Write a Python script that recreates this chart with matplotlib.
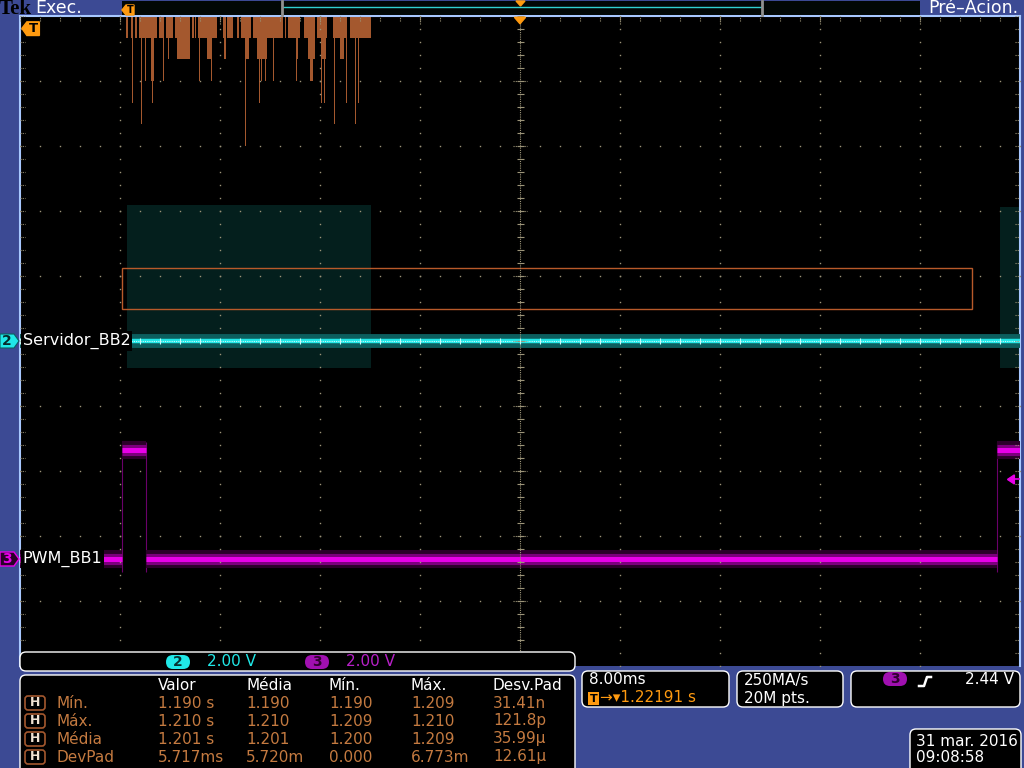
import numpy as np
import matplotlib.pyplot as plt
from matplotlib.patches import FancyBboxPatch, Polygon, Rectangle

# scope settings
TIME_DIV = 8.0       # ms/div
V_DIV = 2.0          # V/div (ch2 and ch3)
CH2_POS = 0.0        # div
CH3_POS = -3.35      # div
TRIG_LEVEL = 2.44    # V, ch3

# ch2 "Servidor_BB2"
ch2_t = [-40.0, 40.0]
ch2_v = [0.0, 0.0]
# ch2 persistence envelope: start ms, end ms, min V, max V
env_t0 = [-31.44, 38.40]
env_t1 = [-11.92, 40.00]
env_vmin = [-0.83, -0.83]
env_vmax = [4.18, 4.12]

# ch3 "PWM_BB1" levels
ch3_t0 = [-40.0, -31.84, -29.92, 38.16]
ch3_t1 = [-31.84, -29.92, 38.16, 40.0]
ch3_v = [0.0, 3.35, 0.0, 3.35]
ch3_edges = [-31.84, -29.92, 38.16]

# histogram hanging from top of screen: start ms, end ms, count (1 count = 1/3 div)
hist_t0 = [-31.52, -31.12, -30.80, -30.48, -28.88, -28.32, -27.60, -26.24, -26.00, -25.76,
           -23.76, -23.44, -22.64, -22.32, -21.36, -20.64, -18.80, -18.56, -17.28, -16.24,
           -14.96, -13.60,
           -28.16, -27.44, -25.04, -23.68, -22.00, -21.04, -17.92, -16.96, -15.92, -14.40,
           -30.00, -29.52, -28.56, -25.68, -24.72, -20.72, -20.40, -19.76, -17.92, -16.80,
           -31.04, -29.44, -20.88, -15.92, -15.68, -12.96, -13.92,
           -30.32, -14.88, -13.20,
           -22.00]
hist_t1 = [-31.36, -30.96, -30.64, -29.04, -28.56, -27.76, -26.40, -26.08, -25.92, -24.24,
           -23.68, -22.96, -22.48, -21.52, -20.80, -18.96, -18.72, -17.60, -16.40, -15.44,
           -13.84, -11.92,
           -28.08, -26.40, -24.72, -23.52, -21.68, -20.24, -17.76, -16.40, -15.52, -14.08,
           -29.92, -29.28, -28.48, -25.60, -24.64, -20.64, -20.32, -19.68, -17.84, -16.56,
           -30.96, -29.36, -20.80, -15.84, -15.60, -12.88, -13.84,
           -30.24, -14.80, -13.12,
           -21.92]
hist_n = [1] * 22 + [2] * 10 + [3] * 10 + [4] * 7 + [5] * 3 + [6]

# histogram limit box (ms, V on ch2)
hbox_t = [-31.84, 36.16]
hbox_v = [1.00, 2.26]

# measurement table
meas_cols = ['Valor', 'Média', 'Mín.', 'Máx.', 'Desv.Pad']
meas_rows = ['Mín.', 'Máx.', 'Média', 'DevPad']
meas_vals = [['1.190 s', '1.190', '1.190', '1.209', '31.41n'],
             ['1.210 s', '1.210', '1.209', '1.210', '121.8p'],
             ['1.201 s', '1.201', '1.200', '1.209', '35.99µ'],
             ['5.717ms', '5.720m', '0.000', '6.773m', '12.61µ']]

BLUE = '#3c4a94'
CYAN = '#20e8e8'
MAG = '#e800e8'
ORANGE = '#ff9a10'
BROWN = '#a4582e'
TXT_BROWN = '#c47a40'
DOT = '#9c9478'
FONT = 'DejaVu Sans'

fig = plt.figure(figsize=(10.24, 7.68), dpi=100)
fig.patch.set_facecolor(BLUE)

# ---- graticule, in ms and divisions ----
ax = fig.add_axes([20 / 1024, (768 - 666) / 768, 1000 / 1024, 650 / 768], zorder=1)
ax.set_facecolor('black')
ax.set_xlim(-5 * TIME_DIV, 5 * TIME_DIV)
ax.set_ylim(-5, 5)
ax.set_xticks([])
ax.set_yticks([])
for s in ['left', 'top', 'right']:
    ax.spines[s].set_color('#a8c8ff')
    ax.spines[s].set_linewidth(1.5)
ax.spines['bottom'].set_visible(False)


def ch2y(v):
    return CH2_POS + np.asarray(v) / V_DIV


def ch3y(v):
    return CH3_POS + np.asarray(v) / V_DIV


# ch2 persistence envelope
for t0, t1, lo, hi in zip(env_t0, env_t1, env_vmin, env_vmax):
    ax.fill_between([t0, t1], ch2y(lo), ch2y(hi), color='#041f1d', lw=0, zorder=1)

# histogram bars from the top
ax.bar(hist_t0, -np.array(hist_n) / 3.0, width=np.array(hist_t1) - np.array(hist_t0),
       bottom=5, align='edge', color=BROWN, lw=0, zorder=2)

# histogram box
ax.add_patch(Rectangle((hbox_t[0], ch2y(hbox_v[0])), hbox_t[1] - hbox_t[0],
                       ch2y(hbox_v[1]) - ch2y(hbox_v[0]), fill=False,
                       ec='#b85a2a', lw=1.0, zorder=3))

# ch2 trace
ax.plot(ch2_t, ch2y(ch2_v), color='#0c5e5e', lw=10, solid_capstyle='butt', zorder=3)
ax.plot(ch2_t, ch2y(ch2_v), color=CYAN, lw=3.2, solid_capstyle='butt', zorder=4)

# ch3 trace
ax.vlines(ch3_edges, ch3y(-0.4), ch3y(3.6), color='#6a006a', lw=0.8, zorder=3)
ax.hlines(ch3y(ch3_v), ch3_t0, ch3_t1, color='#2c002a', lw=13, zorder=3)
ax.hlines(ch3y(ch3_v), ch3_t0, ch3_t1, color='#7c007c', lw=8, zorder=3)
ax.hlines(ch3y(ch3_v), ch3_t0, ch3_t1, color=MAG, lw=3.6, zorder=4)

# grid dots
xs = np.arange(-5, 5.01, 0.2) * TIME_DIV
ys = np.arange(-5, 5.01, 0.2)
for r in range(-4, 5):
    if r == 0:
        continue
    ax.plot(xs, np.full_like(xs, r), ls='none', marker='s', ms=1.0, mew=0, color=DOT, zorder=6)
for c in range(-4, 5):
    if c == 0:
        continue
    ax.plot(np.full_like(ys, c * TIME_DIV), ys, ls='none', marker='s', ms=1.0, mew=0,
            color=DOT, zorder=6)
# center cross
ax.axvline(0, color=DOT, lw=0.8, ls=(0, (1, 1)), zorder=6)
ax.axhline(0, color='#c8f8f8', lw=0.8, ls=(0, (1, 1)), zorder=6)
ax.hlines(ys, -0.28, 0.28, color=DOT, lw=0.8, zorder=6)
ax.hlines(np.arange(-4, 5), -0.55, 0.55, color=DOT, lw=0.8, ls=(0, (1, 1)), zorder=6)
ax.vlines(xs, -0.05, 0.05, color='#c8f8f8', lw=0.8, zorder=6)
# edge ticks
ax.hlines(ys, -40, -39.6, color=DOT, lw=0.8, ls=(0, (1, 1)), zorder=6)
ax.hlines(ys, 39.6, 40, color=DOT, lw=0.8, ls=(0, (1, 1)), zorder=6)
ax.vlines(xs, 4.93, 5, color=DOT, lw=0.8, ls=(0, (1, 1)), zorder=6)
ax.vlines(np.arange(-4, 5) * TIME_DIV, 4.88, 5, color=DOT, lw=0.8, ls=(0, (1, 1)), zorder=6)

# trace labels
ax.text(-39.8, CH2_POS, 'Servidor_BB2', color='white', fontsize=11.5, family=FONT,
        ha='left', va='center', zorder=7,
        bbox=dict(boxstyle='square,pad=0.12', fc='black', ec='none'))
ax.text(-39.8, CH3_POS, 'PWM_BB1', color='white', fontsize=11.5, family=FONT,
        ha='left', va='center', zorder=7,
        bbox=dict(boxstyle='square,pad=0.12', fc='black', ec='none'))

# trigger level arrow (right edge)
ty = ch3y(TRIG_LEVEL)
ax.add_patch(Polygon([[39.0, ty], [39.55, ty + 0.07], [39.55, ty - 0.07]], closed=True,
                     color=MAG, zorder=7, clip_on=False))
ax.plot([39.55, 40], [ty, ty], color=MAG, lw=1.2, zorder=7)

# trigger marker at top center
ax.add_patch(Polygon([[-0.45, 4.98], [0.45, 4.98], [0, 4.88]], closed=True, color=ORANGE,
                     zorder=8))
# trigger off-screen marker at top left
ax.add_patch(Polygon([[-39.85, 4.81], [-39.45, 4.91], [-38.45, 4.91], [-38.45, 4.70],
                      [-39.45, 4.70]], closed=True, color=ORANGE, zorder=8))
ax.text(-38.9, 4.805, 'T', color='black', fontsize=9.5, fontweight='bold', ha='center',
        va='center', zorder=9, family=FONT)

# ---- screen chrome, in pixels ----
ui = fig.add_axes([0, 0, 1, 1], zorder=3)
ui.set_xlim(0, 1024)
ui.set_ylim(768, 0)
ui.axis('off')
ui.patch.set_alpha(0)

ui.text(-1, 9, 'Tek', color='black', fontsize=15, family='Liberation Serif',
        fontweight='bold', ha='left', va='center')
ui.text(35, 8, 'Exec.', color='white', fontsize=12.5, family=FONT, ha='left', va='center')
ui.add_patch(Rectangle((122, 1), 798, 14, fc='#020806', ec='none'))
ui.plot([283, 761], [7, 7], color='#30d0d0', lw=1)
ui.plot([282, 282], [1, 15], color='#909090', lw=2)
ui.plot([762, 762], [1, 15], color='#909090', lw=2)
ui.add_patch(Polygon([[122, 10], [126, 5], [134, 5], [134, 15], [126, 15]], closed=True,
                     color=ORANGE))
ui.text(130, 10, 'T', color='black', fontsize=7, fontweight='bold', ha='center', va='center')
ui.add_patch(Polygon([[516, 1], [525, 1], [520.5, 6]], closed=True, color=ORANGE))
ui.text(1018, 8, 'Pré–Acion.', color='white', fontsize=12.5, family=FONT, ha='right',
        va='center')

# channel ground markers
ui.add_patch(Polygon([[0, 334], [14, 334], [19, 341], [14, 348], [0, 348]], closed=True,
                     fc=CYAN, ec='#0a6060', lw=0.8))
ui.text(7, 341, '2', color='#062a2a', fontsize=10, fontweight='bold', ha='center',
        va='center', family=FONT)
ui.add_patch(Polygon([[0, 552], [14, 552], [19, 559], [14, 566], [0, 566]], closed=True,
                     fc='#2a0028', ec=MAG, lw=1))
ui.text(7, 559, '3', color=MAG, fontsize=10, fontweight='bold', ha='center', va='center',
        family=FONT)


def panel(x, y, w, h):
    ui.add_patch(FancyBboxPatch((x, y), w, h, boxstyle='round,pad=0,rounding_size=6',
                                fc='black', ec='white', lw=1.0))


# vertical scale strip
panel(20, 652, 555, 19)
ui.add_patch(FancyBboxPatch((166, 655), 24, 14, boxstyle='round,pad=0,rounding_size=7',
                            fc=CYAN, ec='none'))
ui.text(178, 662, '2', color='#063030', fontsize=10, fontweight='bold', ha='center',
        va='center', family=FONT)
ui.text(207, 662, '2.00 V', color=CYAN, fontsize=11, ha='left', va='center', family=FONT)
ui.add_patch(FancyBboxPatch((305, 655), 24, 14, boxstyle='round,pad=0,rounding_size=7',
                            fc='#a010b0', ec='none'))
ui.text(317, 662, '3', color='#300030', fontsize=10, fontweight='bold', ha='center',
        va='center', family=FONT)
ui.text(346, 662, '2.00 V', color='#b820c8', fontsize=11, ha='left', va='center',
        family=FONT)

# measurement table
panel(20, 675, 555, 100)
col_x = [158, 246, 329, 411, 493]
for cx, name in zip(col_x, meas_cols):
    ui.text(cx, 685, name, color='white', fontsize=11, ha='left', va='center', family=FONT)
for i, (rname, vals) in enumerate(zip(meas_rows, meas_vals)):
    ry = 703 + 18 * i
    ui.add_patch(FancyBboxPatch((25, ry - 7), 20, 14, boxstyle='round,pad=0,rounding_size=3',
                                fc='black', ec=BROWN, lw=1.2))
    ui.text(35, ry, 'H', color='#f0e2d2', fontsize=9, fontweight='bold', ha='center',
            va='center', family=FONT)
    ui.text(57, ry, rname, color=TXT_BROWN, fontsize=11, ha='left', va='center', family=FONT)
    for cx, v in zip(col_x, vals):
        ui.text(cx, ry, v, color=TXT_BROWN, fontsize=11, ha='left', va='center', family=FONT)

# horizontal settings
panel(582, 671, 147, 36)
ui.text(589, 680, '8.00ms', color='white', fontsize=11, ha='left', va='center', family=FONT)
ui.add_patch(Rectangle((588, 692), 11, 13, fc=ORANGE, ec='none'))
ui.text(593.5, 698.5, 'T', color='black', fontsize=8, fontweight='bold', ha='center',
        va='center', family=FONT)
ui.text(600, 698, '→▾1.22191 s', color=ORANGE, fontsize=11, ha='left', va='center',
        family=FONT)

panel(737, 671, 106, 36)
ui.text(744, 680, '250MA/s', color='white', fontsize=11, ha='left', va='center', family=FONT)
ui.text(744, 698, '20M pts.', color='white', fontsize=11, ha='left', va='center', family=FONT)

panel(851, 671, 169, 36)
ui.add_patch(FancyBboxPatch((883, 672), 24, 14, boxstyle='round,pad=0,rounding_size=7',
                            fc='#a010b0', ec='none'))
ui.text(895, 679, '3', color='#300030', fontsize=10, fontweight='bold', ha='center',
        va='center', family=FONT)
ui.plot([919, 924, 927, 931], [686, 686, 677, 677], color='white', lw=1.8)
ui.text(1014, 680, '2.44 V', color='white', fontsize=11, ha='right', va='center',
        family=FONT)

panel(910, 729, 111, 45)
ui.text(916, 741, '31 mar. 2016', color='white', fontsize=11, ha='left', va='center',
        family=FONT)
ui.text(916, 757, '09:08:58', color='white', fontsize=11, ha='left', va='center',
        family=FONT)

fig.savefig('out.png', dpi=100, facecolor=fig.get_facecolor())
